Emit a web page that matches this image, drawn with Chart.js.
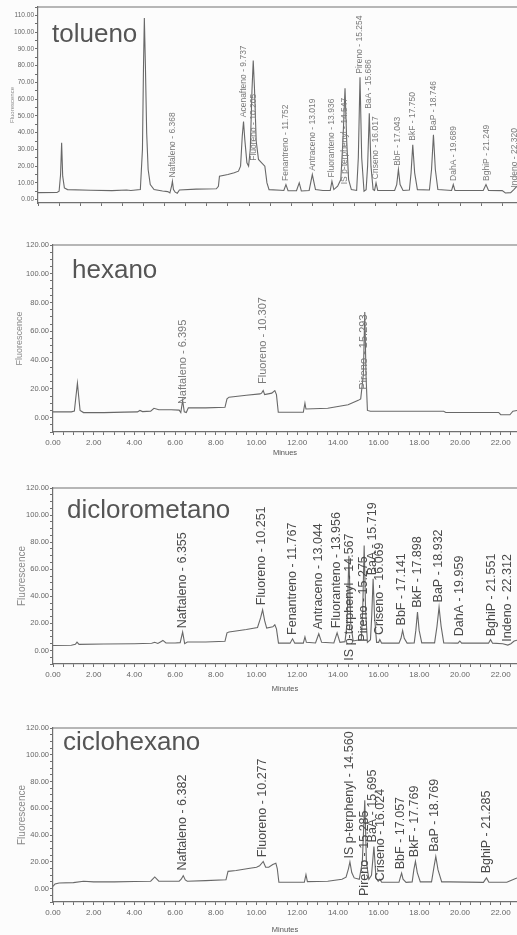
<!DOCTYPE html>
<html>
<head>
<meta charset="UTF-8">
<title>Cromatogramas HPA</title>
<script src="https://cdn.jsdelivr.net/npm/chart.js@4"></script>
<style>
  body { margin: 0; background: #fcfcfc; width: 517px; height: 935px; overflow: hidden; position: relative; }
  .panel { position: absolute; left: 0; width: 517px; }
</style>
</head>
<body>
<div class="panel" style="top:0px"><canvas id="tolChart" width="517" height="215"></canvas></div>
<div class="panel" style="top:225px"><canvas id="hexChart" width="517" height="240"></canvas></div>
<div class="panel" style="top:465px"><canvas id="dcmChart" width="517" height="235"></canvas></div>
<div class="panel" style="top:705px"><canvas id="cicChart" width="517" height="230"></canvas></div>
<script>
// ---- tolueno ----
const tolTime = [0, 0.9, 1.0, 1.07, 1.12, 1.17, 1.25, 1.4, 2.5, 3.5,
  4.2, 4.4, 4.85, 4.95, 5.0, 5.04, 5.09, 5.15, 5.22, 5.32,
  5.5, 5.9, 6.15, 6.25, 6.33, 6.37, 6.42, 6.5, 6.6, 6.7,
  7.5, 8.45, 8.55, 8.6, 9.0, 9.3, 9.5, 9.6, 9.68, 9.74,
  9.8, 9.9, 9.98, 10.06, 10.14, 10.2, 10.26, 10.34, 10.45, 10.6,
  10.75, 10.85, 10.95, 11.5, 11.65, 11.75, 11.85, 12.25, 12.38, 12.48,
  12.85, 13.0, 13.15, 13.5, 13.85, 13.93, 14.02, 14.2, 14.35, 14.45,
  14.55, 14.63, 14.72, 14.85, 15.1, 15.18, 15.26, 15.34, 15.45, 15.55,
  15.62, 15.7, 15.78, 15.88, 15.95, 16.02, 16.1, 16.9, 17.0, 17.08,
  17.16, 17.3, 17.6, 17.68, 17.76, 17.85, 17.98, 18.55, 18.65, 18.74,
  18.83, 18.95, 19.6, 19.68, 19.76, 21.1, 21.23, 21.35, 22.0, 22.15,
  22.4, 22.55, 22.7];
const tolSignal = [4.2, 4.3, 5, 15, 34, 14, 7, 6, 5.6, 5.4,
  5.8, 5.5, 6, 30, 80, 108.5, 80, 40, 18, 9,
  6, 5.2, 4.8, 4, 8, 11, 6, 4.5, 3.8, 5.8,
  6.3, 6.5, 8, 14, 15, 16, 17, 20, 38, 46.6,
  36, 22, 20, 30, 65, 83, 66, 35, 24, 22,
  20, 10, 6, 5.6, 5.5, 9, 5.4, 5.3, 10, 5.2,
  5.5, 15, 6, 5.5, 5.5, 11, 6, 8, 12, 35,
  66.5, 35, 12, 6, 5.5, 25, 73, 25, 5, 6,
  20, 51.6, 20, 6, 5.5, 10, 5.5, 5.5, 9, 18,
  9, 5.5, 5.8, 16, 32.7, 16, 6, 5.8, 18, 38.7,
  18, 6, 5.5, 9, 5.5, 5.5, 9, 5.5, 5.4, 4,
  4.2, 6, 8];
const tolPeakNames = ['Naftaleno - 6.368', 'Acenafteno - 9.737', 'Fluoreno - 10.205', 'Fenantreno - 11.752',
  'Antraceno - 13.019', 'Fluoranteno - 13.936', 'IS p-terphenyl - 14.547', 'Pireno - 15.254', 'BaA - 15.686',
  'Criseno - 16.017', 'BbF - 17.043', 'BkF - 17.750', 'BaP - 18.746', 'DahA - 19.689', 'BghiP - 21.249', 'Indeno - 22.320'];
const tolPeakTime = [6.368, 9.737, 10.205, 11.752, 13.019, 13.936, 14.547, 15.254, 15.686, 16.017, 17.043, 17.75, 18.746, 19.689, 21.249, 22.6];
const tolPeakLevel = [12, 48, 22, 10, 16, 12, 8, 74, 53, 11, 19, 34, 40, 10, 10, 6];

// ---- hexano ----
const hexTime = [0, 0.9, 1.05, 1.13, 1.2, 1.26, 1.33, 1.5, 2.5, 3.5,
  4.15, 4.27, 4.4, 4.8, 4.96, 5.2, 5.8, 6.2, 6.28, 6.37,
  6.45, 6.55, 6.65, 7.5, 8.45, 8.55, 8.65, 9.5, 10.17, 10.25,
  10.33, 10.4, 10.75, 10.9, 10.98, 11.07, 12.3, 12.38, 12.43, 13.5,
  14.5, 15.0, 15.12, 15.25, 15.32, 15.38, 15.45, 15.6, 17.0, 19.2,
  19.3, 21.9, 22.0, 22.45, 22.6, 22.8];
const hexSignal = [4, 4, 4.5, 15, 24, 15, 5, 3.5, 3.5, 3.8,
  4, 5, 4.2, 4.5, 6.5, 5.5, 5.5, 5.2, 3.5, 11.9,
  4, 3.5, 6.8, 6.8, 7.2, 13, 14.2, 15.5, 16.5, 17,
  18.8, 16, 17, 18.8, 16, 3.7, 3.7, 10, 6, 6.5,
  9, 12, 13, 30, 73.5, 30, 5, 4.4, 4.4, 4.4,
  3.6, 3.6, 2, 2, 4.5, 5];
const hexPeakNames = ['Naftaleno - 6.395', 'Fluoreno - 10.307', 'Pireno - 15.293'];
const hexPeakTime = [6.395, 10.307, 15.293];
const hexPeakLevel = [8, 22, 18];

// ---- diclorometano ----
const dcmTime = [0, 0.9, 1.1, 1.18, 1.28, 2.5, 4.0, 4.85, 5.0, 5.15,
  5.3, 5.4, 5.55, 6.0, 6.25, 6.37, 6.47, 6.6, 7.5, 8.45,
  8.55, 8.65, 9.5, 10.05, 10.2, 10.3, 10.4, 10.5, 10.8, 10.9,
  10.98, 11.08, 11.65, 11.77, 11.88, 12.3, 12.38, 12.45, 12.9, 13.06,
  13.2, 13.8, 13.96, 14.1, 14.35, 14.45, 14.54, 14.63, 14.75, 15.15,
  15.22, 15.29, 15.36, 15.45, 15.6, 15.66, 15.73, 15.8, 15.9, 16.0,
  16.06, 16.15, 17.0, 17.1, 17.18, 17.26, 17.4, 17.75, 17.83, 17.91,
  17.99, 18.12, 18.75, 18.87, 18.97, 19.07, 19.2, 19.9, 19.99, 20.08,
  21.4, 21.5, 21.6, 22.1, 22.35, 22.5, 22.66, 22.8];
const dcmSignal = [3.7, 3.8, 4.5, 6.2, 4.5, 4.8, 5, 5.3, 6, 5.2,
  6.5, 7.4, 5.5, 5.5, 5.8, 13.6, 5, 6.2, 6.2, 6.8,
  13, 13.6, 15.5, 17, 24, 30, 22, 16.5, 17.5, 19,
  16, 5.4, 5.4, 8.6, 5.4, 5.4, 10, 6, 5.5, 12.3,
  6, 5.5, 13, 6, 6.5, 20, 70, 20, 7, 8,
  30, 77.6, 30, 6, 8, 25, 53, 25, 6, 6,
  8, 5.4, 5.4, 9, 14.8, 9, 5.4, 5.6, 15, 28.3,
  15, 5.6, 5.6, 18, 32, 18, 5.6, 5.4, 7, 5.4,
  5.4, 8, 5.4, 5, 4, 5, 7, 7.5];
const dcmPeakNames = ['Naftaleno - 6.355', 'Fluoreno - 10.251', 'Fenantreno - 11.767', 'Antraceno - 13.044',
  'Fluoranteno - 13.956', 'IS p-terphenyl - 14.567', 'Pireno - 15.275', 'BaA - 15.719', 'Criseno - 16.069',
  'BbF - 17.141', 'BkF - 17.898', 'BaP - 18.932', 'DahA - 19.959', 'BghiP - 21.551', 'Indeno - 22.312'];
const dcmPeakTime = [6.355, 10.251, 11.767, 13.044, 13.956, 14.567, 15.275, 15.719, 16.069, 17.141, 17.898, 18.932, 19.959, 21.551, 22.312];
const dcmPeakLevel = [15, 32, 10, 14, 15, -9, 5, 54, 10, 17, 30, 34, 9, 9, 5];

// ---- ciclohexano ----
const cicTime = [0, 0.1, 0.3, 1.0, 1.5, 2.0, 3.0, 4.0, 4.8, 5.0,
  5.2, 6.2, 6.3, 6.4, 6.5, 6.6, 7.5, 8.5, 8.6, 9.0,
  9.6, 10.0, 10.15, 10.33, 10.45, 10.6, 10.8, 10.95, 11.02, 11.1,
  12.35, 12.43, 12.5, 13.5, 14.2, 14.4, 14.52, 14.59, 14.68, 14.8,
  15.05, 15.2, 15.32, 15.4, 15.52, 15.65, 15.77, 15.87, 15.98, 16.06,
  16.15, 17.0, 17.06, 17.13, 17.2, 17.35, 17.65, 17.73, 17.81, 17.9,
  18.05, 18.6, 18.72, 18.81, 18.92, 19.1, 19.5, 21.15, 21.3, 21.42,
  22.3, 22.5, 22.8];
const cicSignal = [1.7, 3.5, 4.2, 4.5, 5.5, 5, 5, 5.3, 5.5, 8.7,
  5.6, 5.5, 7, 9.7, 6.5, 5.5, 6, 6.6, 12.9, 13.5,
  15, 16, 17, 20.3, 16, 16, 18, 19, 15, 4.7,
  4.7, 10.4, 5.2, 5.5, 7, 8.5, 15, 19.9, 12, 8,
  7, 20, 66, 20, 7, 10, 31.5, 8, 5.5, 7,
  4.7, 4.7, 8, 11.6, 7, 4.7, 5, 14, 20.3, 12,
  5, 5, 16, 24, 14, 5, 5, 4.7, 8, 4.7,
  4.7, 6, 8];
const cicPeakNames = ['Naftaleno - 6.382', 'Fluoreno - 10.277', 'IS p-terphenyl - 14.560', 'Pireno - 15.285',
  'BaA - 15.695', 'Criseno - 16.024', 'BbF - 17.057', 'BkF - 17.769', 'BaP - 18.769', 'BghiP - 21.285'];
const cicPeakTime = [6.382, 10.277, 14.56, 15.285, 15.695, 16.1, 17.057, 17.769, 18.769, 21.285];
const cicPeakLevel = [12, 22, 21, -7, 33, 4, 13, 22, 26, 10];

const FONT = '"Liberation Sans", Arial, sans-serif';
Chart.defaults.font.family = FONT;
Chart.defaults.color = '#666';

function makePanel(id, p) {
  const overlay = {
    id: 'overlay' + id,
    afterDatasetsDraw(chart) {
      const { ctx, chartArea, scales: { x, y } } = chart;
      ctx.save();
      // top frame line
      ctx.strokeStyle = '#707070';
      ctx.lineWidth = 1.2;
      ctx.beginPath();
      ctx.moveTo(chartArea.left, chartArea.top);
      ctx.lineTo(chartArea.right, chartArea.top);
      ctx.stroke();
      // solvent name
      ctx.fillStyle = '#555';
      ctx.font = '26px ' + FONT;
      ctx.textBaseline = 'alphabetic';
      ctx.textAlign = 'left';
      ctx.fillText(p.solvent, chartArea.left + p.nameDx, chartArea.top + p.nameDy);
      // peak labels, rotated
      ctx.font = p.labelSize + 'px ' + FONT;
      ctx.fillStyle = p.labelColor;
      ctx.textBaseline = 'middle';
      p.names.forEach((n, i) => {
        const px = x.getPixelForValue(p.peakTime[i]);
        const py = y.getPixelForValue(p.peakLevel[i]);
        ctx.save();
        ctx.translate(px, py);
        ctx.rotate(-Math.PI / 2);
        ctx.fillText(n, 2, 0);
        ctx.restore();
      });
      ctx.restore();
    }
  };

  return new Chart(document.getElementById(id), {
    type: 'line',
    data: {
      datasets: [{
        data: p.time.map((t, i) => ({ x: t, y: p.signal[i] })),
        borderColor: '#686868',
        borderWidth: 1.1,
        pointRadius: 0,
        tension: 0,
        fill: false
      }]
    },
    options: {
      responsive: false,
      animation: false,
      layout: { padding: { top: p.padTop, left: 0, right: 0, bottom: 0 } },
      plugins: { legend: { display: false }, tooltip: { enabled: false } },
      scales: {
        x: {
          type: 'linear',
          min: 0,
          max: p.xMax,
          afterFit: s => { s.height = p.xAxisHeight; },
          border: { color: '#707070', width: 1.2 },
          grid: { drawOnChartArea: false, tickLength: 3, color: '#707070' },
          ticks: {
            stepSize: p.xStep,
            includeBounds: false,
            autoSkip: false,
            maxRotation: 0,
            padding: 3,
            font: { size: 8 },
            color: '#666',
            callback: v => (p.xLabels && Math.abs(v / 2 - Math.round(v / 2)) < 1e-6) ? v.toFixed(2) : ''
          },
          title: {
            display: !!p.xTitle,
            text: p.xTitle || '',
            font: { size: 7.5 },
            color: '#555',
            padding: { top: 0, bottom: p.xTitlePad }
          }
        },
        y: {
          min: p.yMin,
          max: p.yMax,
          afterFit: s => { s.width = p.yAxisWidth; },
          border: { color: '#707070', width: 1.2 },
          grid: { drawOnChartArea: false, tickLength: 3, color: '#707070' },
          ticks: {
            stepSize: 5,
            includeBounds: false,
            autoSkip: false,
            padding: 1,
            font: { size: p.yTickSize },
            color: '#666',
            callback: v => (v >= 0 && Math.abs(v / p.yLabelEvery - Math.round(v / p.yLabelEvery)) < 1e-6) ? v.toFixed(2) : ''
          },
          title: {
            display: true,
            text: 'Fluorescence',
            font: { size: p.yTitleSize },
            color: '#8a8a8a',
            padding: { top: p.yTitlePad, bottom: 0 }
          }
        }
      }
    },
    plugins: [overlay]
  });
}

makePanel('tolChart', {
  time: tolTime, signal: tolSignal, names: tolPeakNames, peakTime: tolPeakTime, peakLevel: tolPeakLevel,
  solvent: 'tolueno', nameDx: 14, nameDy: 35,
  padTop: 7, xAxisHeight: 12, yAxisWidth: 38, xMax: 22.7, xStep: 1, xLabels: false, xTitle: '',
  yMin: -2, yMax: 115, yLabelEvery: 10, yTickSize: 6.5, yTitleSize: 6, yTitlePad: 9,
  labelSize: 8.5, labelColor: '#7a7a7a'
});
makePanel('hexChart', {
  time: hexTime, signal: hexSignal, names: hexPeakNames, peakTime: hexPeakTime, peakLevel: hexPeakLevel,
  solvent: 'hexano', nameDx: 19, nameDy: 33,
  padTop: 20, xAxisHeight: 33, yAxisWidth: 53, xMax: 22.8, xStep: 0.5, xLabels: true, xTitle: 'Minues', xTitlePad: 8,
  yMin: -10, yMax: 120, yLabelEvery: 20, yTickSize: 7.5, yTitleSize: 9, yTitlePad: 14,
  labelSize: 11, labelColor: '#7a7a7a'
});
makePanel('dcmChart', {
  time: dcmTime, signal: dcmSignal, names: dcmPeakNames, peakTime: dcmPeakTime, peakLevel: dcmPeakLevel,
  solvent: 'diclorometano', nameDx: 14, nameDy: 30,
  padTop: 23, xAxisHeight: 36, yAxisWidth: 53, xMax: 22.8, xStep: 0.5, xLabels: true, xTitle: 'Minutes', xTitlePad: 7,
  yMin: -10, yMax: 120, yLabelEvery: 20, yTickSize: 7.5, yTitleSize: 10, yTitlePad: 16,
  labelSize: 12.5, labelColor: '#4a4a4a'
});
makePanel('cicChart', {
  time: cicTime, signal: cicSignal, names: cicPeakNames, peakTime: cicPeakTime, peakLevel: cicPeakLevel,
  solvent: 'ciclohexano', nameDx: 10, nameDy: 22,
  padTop: 23, xAxisHeight: 33, yAxisWidth: 53, xMax: 22.8, xStep: 0.5, xLabels: true, xTitle: 'Minutes', xTitlePad: 1,
  yMin: -10, yMax: 120, yLabelEvery: 20, yTickSize: 7.5, yTitleSize: 10, yTitlePad: 16,
  labelSize: 12.5, labelColor: '#4a4a4a'
});
</script>
</body>
</html>
